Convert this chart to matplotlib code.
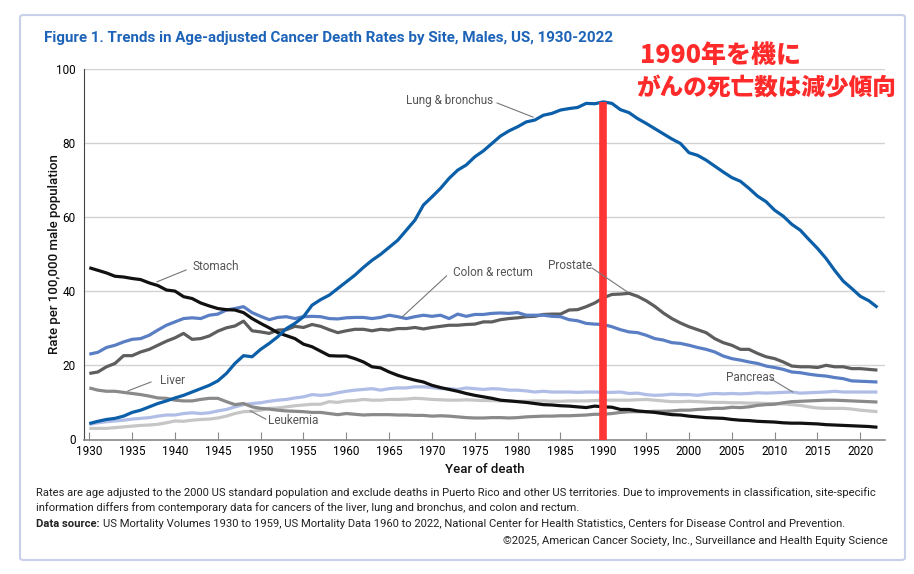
import numpy as np
import matplotlib
matplotlib.use("Agg")
import matplotlib.pyplot as plt
from matplotlib import font_manager
from matplotlib.patches import FancyBboxPatch

## Dados (taxa por 100.000 homens)
anos = np.arange(1930, 2023)

pulmao = [4.3, 4.9, 5.4, 5.7, 6.3, 7.3, 7.9, 8.8, 9.7, 10.4,
          11.2, 11.9, 12.8, 13.7, 14.6, 15.8, 17.8, 20.5, 22.6, 22.3,
          24.3, 25.9, 27.7, 29.9, 31.3, 33.1, 36.2, 37.7, 38.9, 40.7,
          42.5, 44.3, 46.4, 48.3, 49.9, 51.8, 53.7, 56.4, 59.1, 63.2,
          65.4, 67.7, 70.4, 72.6, 74.0, 76.2, 77.8, 79.8, 81.8, 83.2,
          84.3, 85.6, 86.1, 87.4, 87.9, 88.8, 89.2, 89.5, 90.6, 90.5,
          91.0, 90.6, 88.9, 88.1, 86.5, 85.2, 83.8, 82.4, 81.0, 79.8,
          77.3, 76.6, 75.3, 73.7, 72.1, 70.6, 69.6, 67.7, 65.6, 64.1,
          61.8, 60.2, 58.0, 56.4, 53.9, 51.5, 48.8, 45.6, 42.7, 40.7,
          38.6, 37.4, 35.6]

estomago = [46.3, 45.6, 44.9, 44.0, 43.8, 43.4, 43.1, 42.2, 41.5, 40.3,
            40.0, 38.5, 38.0, 36.8, 36.0, 35.3, 35.0, 34.9, 34.2, 32.6,
            31.3, 30.1, 28.8, 28.0, 27.2, 25.7, 25.0, 23.8, 22.6, 22.5,
            22.5, 21.8, 20.9, 19.6, 19.3, 18.2, 17.3, 16.6, 16.0, 15.5,
            14.6, 14.0, 13.5, 13.0, 12.4, 11.9, 11.5, 11.1, 10.6, 10.4,
            10.2, 10.0, 9.7, 9.4, 9.3, 9.1, 9.0, 8.8, 8.6, 9.0,
            8.8, 8.7, 8.1, 8.1, 7.7, 7.5, 7.3, 7.0, 6.7, 6.6,
            6.3, 6.1, 5.9, 5.8, 5.7, 5.4, 5.2, 5.1, 4.9, 4.8,
            4.7, 4.5, 4.4, 4.4, 4.3, 4.2, 4.0, 3.9, 3.8, 3.7,
            3.6, 3.5, 3.3]

colon_reto = [23.0, 23.5, 24.8, 25.4, 26.3, 27.0, 27.2, 28.1, 29.5, 30.8,
              31.7, 32.6, 32.8, 32.6, 33.5, 33.8, 34.9, 35.3, 35.8, 34.2,
              33.2, 32.3, 32.9, 33.1, 32.6, 33.1, 33.2, 33.1, 32.6, 32.5,
              32.8, 32.9, 32.9, 32.6, 32.9, 33.5, 33.1, 32.6, 33.1, 33.5,
              33.2, 33.5, 32.6, 33.8, 33.2, 33.7, 33.7, 34.0, 34.1, 34.0,
              34.2, 33.5, 33.5, 33.5, 33.2, 33.1, 32.3, 32.0, 31.3, 31.1,
              31.0, 30.4, 29.6, 29.0, 28.8, 28.1, 27.2, 26.8, 26.1, 25.9,
              25.4, 24.8, 24.3, 23.6, 22.5, 21.8, 21.4, 20.9, 20.5, 19.8,
              19.4, 18.9, 18.2, 18.0, 17.6, 17.3, 17.1, 16.7, 16.4, 15.8,
              15.7, 15.6, 15.5]

prostata = [17.8, 18.2, 19.6, 20.5, 22.6, 22.6, 23.6, 24.3, 25.4, 26.5,
            27.4, 28.6, 27.0, 27.2, 27.9, 29.2, 30.1, 30.6, 31.9, 29.3,
            29.0, 28.6, 29.5, 29.6, 30.5, 30.2, 31.0, 30.5, 29.6, 28.8,
            29.3, 29.7, 29.7, 29.3, 29.7, 29.5, 29.9, 29.9, 30.2, 29.8,
            30.2, 30.5, 30.8, 30.8, 31.0, 31.1, 31.7, 31.7, 32.3, 32.6,
            32.8, 33.1, 33.2, 33.7, 33.8, 33.8, 34.9, 35.0, 35.8, 36.8,
            38.2, 39.1, 39.2, 39.4, 38.6, 37.4, 35.9, 34.1, 32.6, 31.4,
            30.4, 29.6, 28.8, 27.2, 26.1, 25.4, 24.3, 24.3, 23.2, 22.3,
            21.8, 20.9, 19.8, 19.6, 19.6, 19.4, 20.0, 19.6, 19.6, 19.1,
            19.1, 18.9, 18.7]

figado = [13.9, 13.3, 13.0, 13.0, 12.7, 12.4, 12.1, 11.7, 11.2, 11.1,
          10.6, 10.4, 10.4, 10.8, 11.1, 11.1, 10.2, 9.4, 9.7, 8.8,
          8.4, 8.2, 7.9, 7.7, 7.6, 7.5, 7.3, 7.3, 7.0, 6.7,
          7.0, 6.8, 6.6, 6.7, 6.7, 6.7, 6.6, 6.6, 6.5, 6.5,
          6.3, 6.4, 6.3, 6.1, 5.9, 5.8, 5.8, 5.9, 5.9, 5.8,
          5.9, 6.1, 6.2, 6.3, 6.3, 6.4, 6.4, 6.5, 6.6, 6.8,
          6.8, 7.0, 7.3, 7.5, 7.5, 7.5, 7.6, 7.6, 7.7, 7.9,
          7.9, 8.1, 8.2, 8.4, 8.4, 8.7, 8.6, 8.8, 9.2, 9.4,
          9.5, 9.9, 10.2, 10.3, 10.4, 10.5, 10.6, 10.6, 10.5, 10.4,
          10.3, 10.2, 10.1]

pancreas = [4.1, 4.5, 4.8, 5.0, 5.2, 5.5, 5.7, 5.9, 6.3, 6.6,
            6.6, 7.0, 7.2, 7.0, 7.2, 7.7, 8.1, 8.8, 9.4, 9.7,
            9.9, 10.3, 10.6, 10.8, 11.2, 11.5, 12.1, 11.9, 12.1, 12.6,
            13.0, 13.3, 13.5, 13.7, 13.3, 13.7, 13.9, 13.9, 14.2, 14.2,
            14.0, 13.7, 13.7, 13.5, 13.9, 13.7, 13.5, 13.7, 13.6, 13.3,
            13.3, 13.1, 12.8, 13.0, 12.8, 12.8, 12.8, 12.7, 12.8, 12.8,
            12.7, 12.7, 12.8, 12.4, 12.5, 12.1, 11.9, 12.0, 12.2, 12.1,
            12.1, 11.9, 12.2, 12.4, 12.3, 12.4, 12.3, 12.4, 12.6, 12.5,
            12.6, 12.7, 12.8, 12.5, 12.6, 12.7, 12.8, 13.0, 12.8, 12.8,
            12.8, 12.8, 12.8]

leucemia = [3.0, 3.0, 3.0, 3.2, 3.4, 3.6, 3.8, 3.9, 4.1, 4.5,
            5.0, 4.9, 5.2, 5.4, 5.5, 5.8, 6.3, 7.0, 7.5, 7.6,
            7.9, 8.4, 8.5, 8.8, 9.1, 9.3, 9.5, 9.5, 10.2, 10.0,
            10.4, 10.5, 10.8, 10.6, 10.6, 10.8, 10.8, 10.9, 11.1, 11.0,
            10.8, 10.7, 10.6, 10.6, 10.7, 10.6, 10.5, 10.5, 10.4, 10.4,
            10.3, 10.3, 10.4, 10.4, 10.3, 10.3, 10.4, 10.4, 10.4, 10.5,
            10.6, 10.6, 10.6, 10.6, 10.7, 10.8, 10.6, 10.4, 10.2, 10.2,
            10.3, 10.2, 10.1, 10.0, 10.0, 9.9, 9.9, 9.8, 9.8, 9.7,
            9.7, 9.6, 9.4, 9.2, 8.8, 8.5, 8.4, 8.4, 8.4, 8.2,
            7.9, 7.7, 7.5]

nomes = ["Leukemia", "Pancreas", "Liver", "Prostate", "Colon & rectum", "Stomach", "Lung & bronchus"]
series = [leucemia, pancreas, figado, prostata, colon_reto, estomago, pulmao]
cores = ["#c6c6c6", "#b0bde6", "#8a8a8a", "#5e5e5e", "#5a7ec4", "#111111", "#0b5ea8"]

## Fontes
disponiveis = {f.name for f in font_manager.fontManager.ttflist}
estreita = "Liberation Sans Narrow" if "Liberation Sans Narrow" in disponiveis else "Roboto"
fonte = [estreita, "DejaVu Sans"]
plt.rcParams['font.family'] = fonte
jp = ["Noto Sans CJK JP", "DejaVu Sans"]

fig = plt.figure(figsize=(9.14, 5.74), dpi=100)
W, H = 914, 574

## Moldura do cartão
borda = FancyBboxPatch((20 / W, 1 - 560 / H), 885 / W, 545 / H,
                       boxstyle="round,pad=0,rounding_size=0.004",
                       transform=fig.transFigure, facecolor="none",
                       edgecolor="#c9d0ea", linewidth=1.5, zorder=-1)
fig.patches.append(borda)

ax = fig.add_axes([84 / W, 1 - 439.5 / H, (885 - 84) / W, 371 / H])
ax.set_facecolor("none")

for nome, valores, cor in zip(nomes, series, cores):
    ax.plot(anos, valores, color=cor, lw=2.3, solid_capstyle="butt", zorder=3)

## Linha vermelha em 1990
ano_pico = 1990
ax.vlines(ano_pico, 0, pulmao[anos.tolist().index(ano_pico)], color="#ff3535", lw=5.5, zorder=5)

ax.set_xlim(1929.38, 2022.88)
ax.set_ylim(0, 100)
ax.set_xticks(np.arange(1930, 2021, 5))
ax.set_yticks(np.arange(0, 101, 20))
ax.grid(axis="y", color="#d2d2d2", lw=1)
ax.set_axisbelow(True)
for s in ["top", "right"]:
    ax.spines[s].set_visible(False)
ax.spines["left"].set_color("#444444")
ax.spines["bottom"].set_color("#888888")
ax.spines["bottom"].set_linewidth(1.2)
ax.tick_params(axis="x", direction="in", length=6, color="#888888", labelsize=8.5, pad=4)
ax.tick_params(axis="y", length=0, labelsize=8.5, pad=6)

ax.set_ylabel("Rate per 100,000 male population", fontsize=9.5, fontweight="medium", color="#111111")
ax.set_xlabel("Year of death", fontsize=9.5, fontweight="medium", color="#111111")
ax.yaxis.set_label_coords(-0.029, 0.5)
ax.xaxis.set_label_coords(0.5, -0.062)

## Rótulos das séries
rotulos = [
    ("Lung & bronchus", 1977.1, 91.5, "right", (1977.6, 90.7), (1981.8, 86.9)),
    ("Stomach", 1942.0, 46.5, "left", (1941.3, 45.7), (1937.9, 42.5)),
    ("Colon & rectum", 1972.5, 45.1, "left", (1971.7, 44.1), (1966.5, 33.0)),
    ("Prostate", 1983.5, 47.0, "left", (1988.7, 46.2), (1992.8, 39.8)),
    ("Liver", 1938.3, 16.0, "left", (1937.2, 15.5), (1934.5, 13.1)),
    ("Leukemia", 1950.9, 5.0, "left", (1950.6, 5.5), (1948.8, 7.7)),
    ("Pancreas", 2004.3, 16.8, "left", (2009.6, 16.3), (2012.1, 12.8)),
]
for texto, tx, ty, ha, p0, p1 in rotulos:
    ax.text(tx, ty, texto, ha=ha, va="center", fontsize=8.5, color="#555555", zorder=6)
    ax.plot([p0[0], p1[0]], [p0[1], p1[1]], color="#777777", lw=0.8, zorder=6)

## Título
fig.text(44 / W, 1 - 38 / H, "Figure 1. Trends in Age-adjusted Cancer Death Rates by Site, Males, US, 1930-2022",
         fontsize=10.9, fontweight="bold", color="#1d63b8", va="center", ha="left")

## Anotação em japonês
fig.text(640 / W, 1 - 55 / H, "1990年を機に", family=jp, fontsize=18, fontweight="heavy",
         color="#ff2b2b", va="center", ha="left")
fig.text(636 / W, 1 - 88 / H, "がんの死亡数は減少傾向", family=jp, fontsize=17, fontweight="heavy",
         color="#ff2b2b", va="center", ha="left")

## Rodapé
fs = 8.1
fig.text(36 / W, 1 - 493 / H,
         "Rates are age adjusted to the 2000 US standard population and exclude deaths in Puerto Rico and other US territories. "
         "Due to improvements in classification, site-specific",
         fontsize=fs, color="#222222", va="center")
fig.text(36 / W, 1 - 508 / H,
         "information differs from contemporary data for cancers of the liver, lung and bronchus, and colon and rectum.",
         fontsize=fs, color="#222222", va="center")
t = fig.text(36 / W, 1 - 524 / H, "Data source:", fontsize=fs, fontweight="bold", color="#222222", va="center")
fig.canvas.draw()
bb = t.get_window_extent()
fig.text((bb.x1 + 3) / W, 1 - 524 / H,
         "US Mortality Volumes 1930 to 1959, US Mortality Data 1960 to 2022, National Center for Health Statistics, "
         "Centers for Disease Control and Prevention.",
         fontsize=fs, color="#222222", va="center")
fig.text(888 / W, 1 - 541 / H, "©2025, American Cancer Society, Inc., Surveillance and Health Equity Science",
         fontsize=fs, color="#222222", va="center", ha="right")

fig.savefig("out.png", dpi=100, facecolor="white")
